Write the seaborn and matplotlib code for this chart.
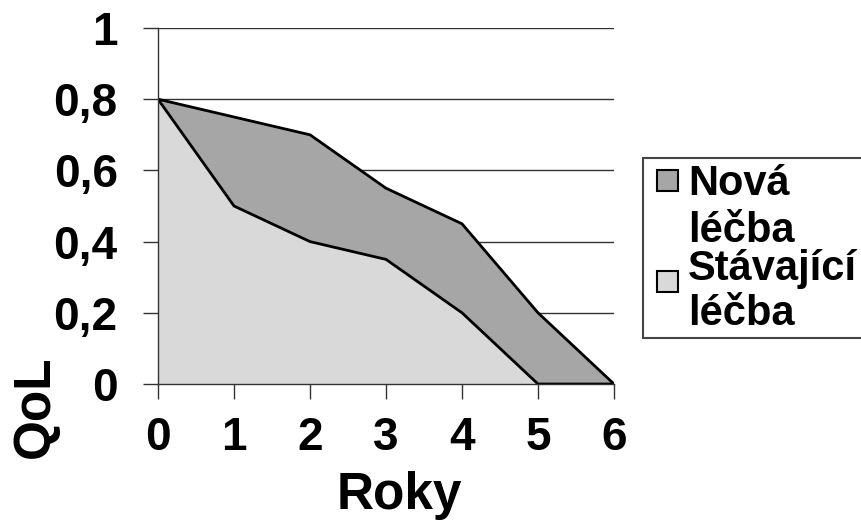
import matplotlib
matplotlib.use("Agg")
import matplotlib.pyplot as plt
from matplotlib.patches import Rectangle
import seaborn as sns
import pandas as pd

years = [0, 1, 2, 3, 4, 5, 6]
nova = [0.8, 0.75, 0.7, 0.55, 0.45, 0.2, 0.0]
stavajici = [0.8, 0.5, 0.4, 0.35, 0.2, 0.0, 0.0]
series_names = ["Nová léčba", "Stávající léčba"]
y_ticks = [0, 0.2, 0.4, 0.6, 0.8, 1.0]
y_tick_labels = ["0", "0,2", "0,4", "0,6", "0,8", "1"]
x_tick_labels = ["0", "1", "2", "3", "4", "5", "6"]

colors = ["#a6a6a6", "#d9d9d9"]

sns.set_theme(style="white")
plt.rcParams["font.family"] = ["Liberation Sans", "DejaVu Sans"]
plt.rcParams["font.weight"] = "bold"
plt.rcParams["text.color"] = "black"

W, H = 862, 522
fig = plt.figure(figsize=(W / 100, H / 100), dpi=100)
ax = fig.add_axes([158 / W, 1 - 384 / H, (614 - 158) / W, (384 - 28) / H])

df = pd.DataFrame({"Roky": years, series_names[0]: nova, series_names[1]: stavajici})

for name, col in zip(series_names, colors):
    ax.fill_between(df["Roky"], 0, df[name], facecolor=col, edgecolor="none", zorder=2)
    sns.lineplot(data=df, x="Roky", y=name, ax=ax, color="black", linewidth=2.0, zorder=3)

ax.set_xlim(0, 6)
ax.set_ylim(0, 1)
ax.set_yticks(y_ticks)
ax.set_yticklabels(y_tick_labels)
ax.set_xticks(years)
ax.set_xticklabels(x_tick_labels)
ax.set_xlabel("")
ax.set_ylabel("")

for y in y_ticks[1:]:
    ax.axhline(y, color="#333333", linewidth=1.0, zorder=1)

for s in ["top", "right"]:
    ax.spines[s].set_visible(False)
for s in ["left", "bottom"]:
    ax.spines[s].set_color("#333333")
    ax.spines[s].set_linewidth(1.0)
    ax.spines[s].set_zorder(4)

ax.tick_params(axis="both", which="major", direction="out", length=11, width=1.0,
               color="#333333", labelsize=33, labelcolor="black")
ax.tick_params(axis="y", pad=18, left=True)
ax.tick_params(axis="x", pad=12, bottom=True)
for lab in ax.get_xticklabels() + ax.get_yticklabels():
    lab.set_fontweight("bold")

def px(x, y):
    return x / W, 1 - y / H

fig.text(*px(399, 509), "Roky", fontsize=37, fontweight="bold", color="black",
         ha="center", va="baseline")
fig.text(*px(35, 407), "QoL", fontsize=37, fontweight="bold", color="black",
         ha="center", va="center", rotation=90)

# legend (manual, wrapped like the original)
fig.patches.append(Rectangle(px(643, 338), (880 - 643) / W, (338 - 158) / H,
                             transform=fig.transFigure, facecolor="white",
                             edgecolor="#444444", linewidth=1.5, zorder=5))
entries = [
    (series_names[0], colors[0], 170, [195, 242]),
    (series_names[1], colors[1], 271, [280, 325]),
]
for name, col, sq_top, baselines in entries:
    fig.patches.append(Rectangle(px(657, sq_top + 21), 21 / W, 21 / H,
                                 transform=fig.transFigure, facecolor=col,
                                 edgecolor="black", linewidth=1.5, zorder=6))
    for word, bl in zip(name.split(" "), baselines):
        fig.text(*px(688, bl), word, fontsize=30, fontweight="bold", color="black",
                 ha="left", va="baseline", zorder=7)

fig.savefig("out.png", dpi=100)
